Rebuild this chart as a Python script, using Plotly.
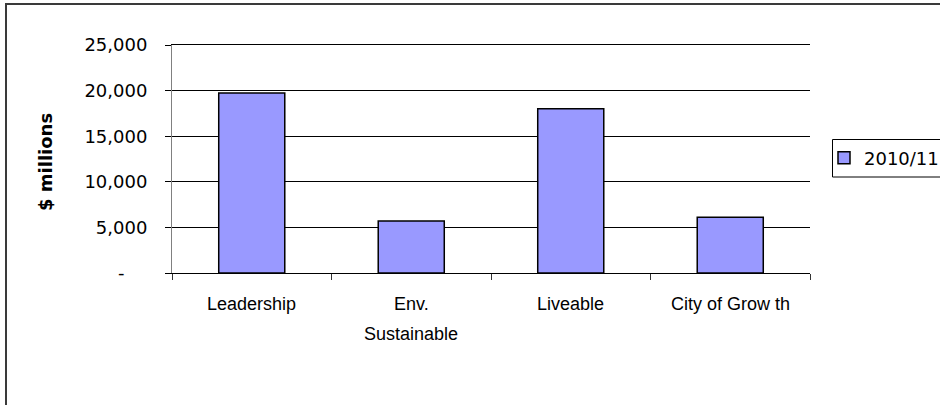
import plotly.graph_objects as go

# Programme areas and their 2010/11 budgets ($ millions)
categories = ["Leadership", "Env. Sustainable", "Liveable", "City of Growth"]
label_lines = [["Leadership"], ["Env.", "Sustainable"], ["Liveable"], ["City of Grow th"]]
values_2010_11 = [19750, 5700, 18000, 6100]
series_name = "2010/11"
y_tickvals = [0, 5000, 10000, 15000, 20000, 25000]
y_ticktext = ["-\u00a0\u00a0\u00a0\u00a0", "5,000", "10,000", "15,000", "20,000", "25,000"]

W, H = 940, 405
L, R, T, B = 172, 130, 45, 132
pw, ph = W - L - R, H - T - B

FONT = "DejaVu Sans, Arial, sans-serif"
LABEL_FONT = "Liberation Sans, Arial, sans-serif"


def px_x(px):
    return (px - L) / pw


def px_y(py):
    return (H - B - py) / ph


fig = go.Figure()
fig.add_trace(go.Bar(
    x=categories,
    y=values_2010_11,
    name=series_name,
    width=0.414,
    marker=dict(color="#9999FF", line=dict(color="#000000", width=1.5)),
    showlegend=True,
))

# Category labels underneath the axis, one annotation per line
annotations = []
for cat, lines in zip(categories, label_lines):
    for i, line in enumerate(lines):
        annotations.append(dict(
            x=cat, xref="x", y=0, yref="paper",
            yanchor="middle", xanchor="center",
            yshift=-31 - 30 * i,
            text=line, showarrow=False,
            font=dict(family=LABEL_FONT, size=18, color="#000000"),
        ))

# Rotated value-axis title
annotations.append(dict(
    x=px_x(45), xref="paper", y=px_y(162), yref="paper",
    xanchor="center", yanchor="middle", textangle=-90,
    text="<b>$ millions</b>", showarrow=False,
    font=dict(family=FONT, size=18, color="#000000"),
))

shapes = [
    # Outer chart frame
    dict(
        type="rect", xref="paper", yref="paper",
        x0=px_x(6), x1=px_x(W + 10),
        y0=px_y(H + 10), y1=px_y(4),
        line=dict(color="#3a3a3a", width=2), fillcolor="rgba(0,0,0,0)",
        layer="below",
    ),
    # Legend frame
    dict(
        type="rect", xref="paper", yref="paper",
        x0=px_x(832.5), x1=px_x(W + 10),
        y0=px_y(177), y1=px_y(139.5),
        line=dict(color="#000000", width=1), fillcolor="rgba(0,0,0,0)",
        layer="above",
    ),
]

fig.update_layout(
    width=W, height=H,
    margin=dict(l=L, r=R, t=T, b=B, autoexpand=False),
    paper_bgcolor="#FFFFFF", plot_bgcolor="#FFFFFF",
    font=dict(family=FONT, size=18, color="#000000"),
    annotations=annotations,
    shapes=shapes,
    legend=dict(
        x=px_x(824), xanchor="left",
        y=px_y(158), yanchor="middle",
        borderwidth=0, bgcolor="rgba(0,0,0,0)",
        font=dict(family=FONT, size=18, color="#000000"),
        itemwidth=30,
    ),
    bargap=0.586,
)

fig.update_xaxes(
    type="category",
    showticklabels=False,
    showline=True, linecolor="#000000", linewidth=1, mirror=True,
    ticks="outside", ticklen=6, tickcolor="#333333", tickson="boundaries",
    showgrid=False, zeroline=False,
)
fig.update_yaxes(
    range=[0, 25000],
    tickvals=y_tickvals, ticktext=y_ticktext,
    tickfont=dict(family=FONT, size=18, color="#000000"),
    showline=True, linecolor="#808080", linewidth=1,
    ticks="outside", ticklen=6, tickcolor="#000000",
    ticklabelstandoff=14,
    showgrid=True, gridcolor="#000000", gridwidth=1,
    zeroline=False,
)

fig.write_html("out.html")
